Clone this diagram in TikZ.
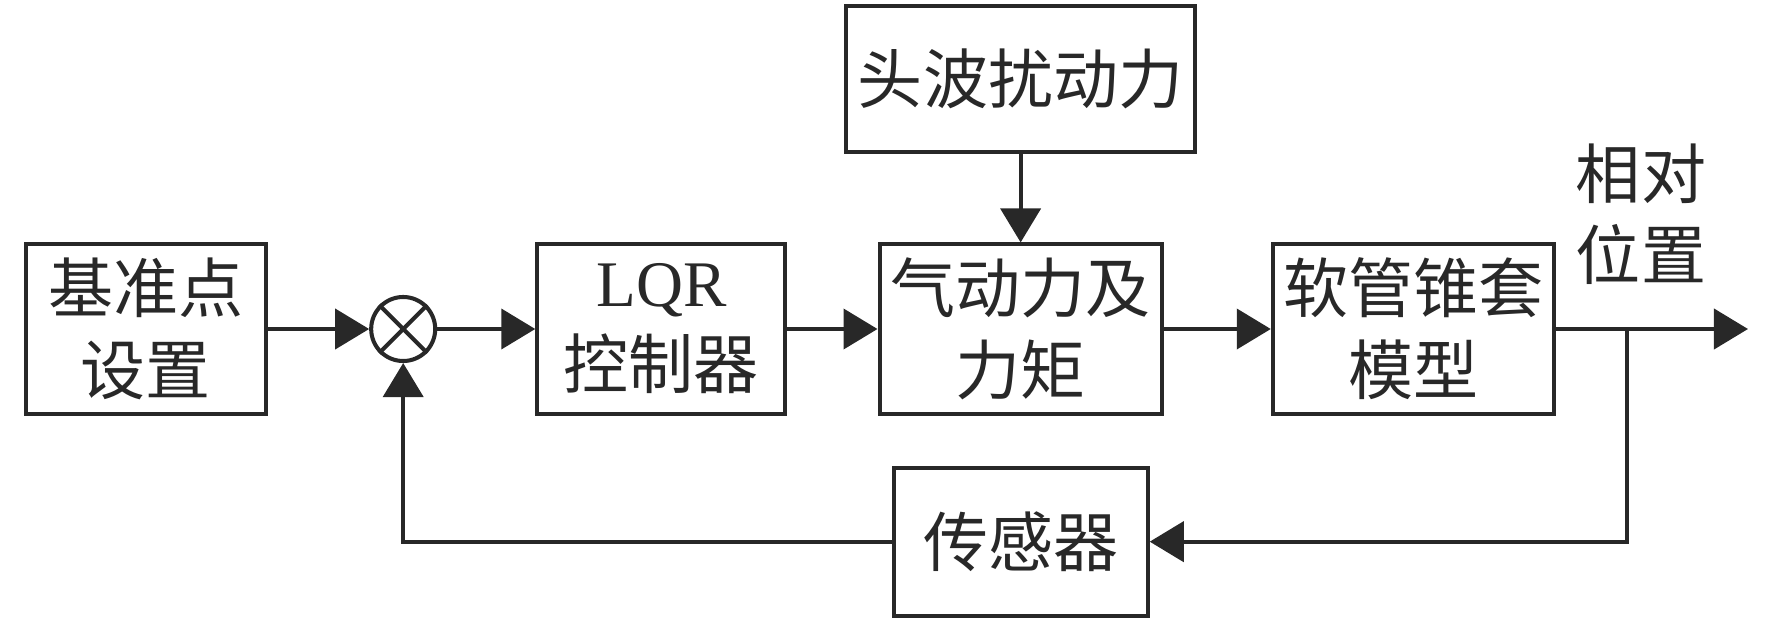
\documentclass[tikz,border=0pt]{standalone}
\usepackage{fontspec}
\setmainfont{Liberation Serif}
\newfontfamily\cjk{Noto Sans CJK SC}
\newfontfamily\lat{Liberation Serif}
\usetikzlibrary{positioning,arrows.meta}
\definecolor{linegray}{HTML}{282828}

\begin{document}
\begin{tikzpicture}[x=0.01cm, y=-0.01cm, color=linegray, line width=1.15pt,
    blk/.style={rectangle, draw, align=center, inner sep=0pt, minimum height=1.69cm, font=\cjk\fontsize{18.5}{23.3}\selectfont},
    sumnode/.style={circle, draw, minimum size=0.64cm, inner sep=0pt},
    >={Triangle[length=3.4mm,width=4mm]}]
            \useasboundingbox (0,0) rectangle (1772,618);
            % Nodes
            \node[blk, minimum width=2.40cm] (ref) at (146,329) {基准点\\设置};
            \node[sumnode, right=1.01cm of ref] (sum) {};
            \node[blk, minimum width=2.48cm, right=0.98cm of sum] (lqr) {{\lat LQR}\\控制器};
            \node[blk, minimum width=2.82cm, right=0.90cm of lqr] (aero) {气动力及\\力矩};
            \node[blk, minimum width=2.81cm, right=1.07cm of aero] (hose) {软管锥套\\模型};
            \node[blk, minimum width=3.49cm, minimum height=1.46cm, above=0.88cm of aero] (dist) {头波扰动力};
            \node[blk, minimum width=2.54cm, minimum height=1.48cm, below=0.50cm of aero] (sensor) {传感器};
            \node[align=center, inner sep=0pt, font=\cjk\fontsize{18.5}{23}\selectfont] (pos) at (1641,214) {相对\\位置};
            \coordinate (branch) at (1627,329);
            \coordinate (out) at (1748,329);
            \draw (sum.45) -- (sum.225);
            \draw (sum.135) -- (sum.315);
            % Arrows
            \draw[->] (ref) -- (sum);
            \draw[->] (sum) -- (lqr);
            \draw[->] (lqr) -- (aero);
            \draw[->] (dist) -- (aero);
            \draw[->] (aero) -- (hose);
            \draw[->] (hose) -- (out);
            \draw[->] (branch) |- (sensor);
            \draw[->] (sensor) -| (sum);
        \end{tikzpicture}
\end{document}
